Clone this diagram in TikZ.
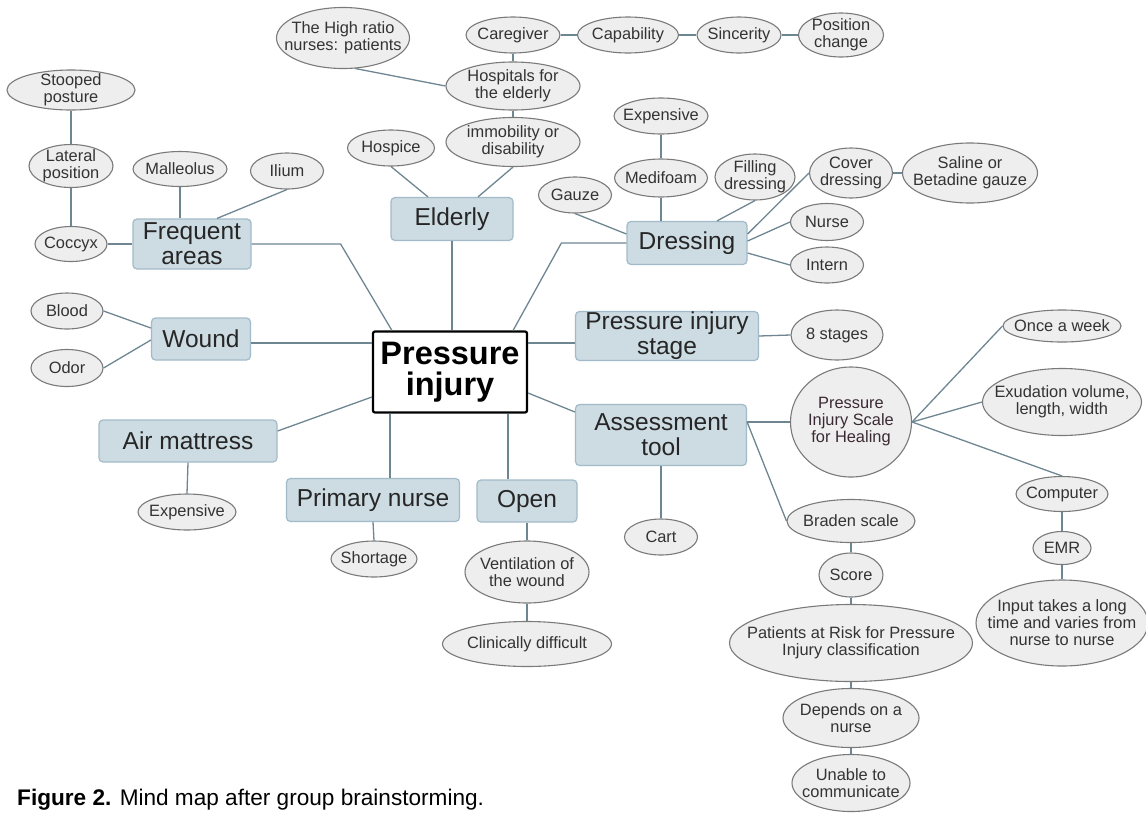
\documentclass[tikz,border=0pt]{standalone}
\usepackage{fontspec}
\setmainfont{Liberation Sans}
\usetikzlibrary{shapes.geometric,calc}
\definecolor{boxfill}{HTML}{CDDBE2}
\definecolor{boxline}{HTML}{A2BBC8}
\definecolor{conn}{HTML}{6E8692}
\definecolor{ellfill}{HTML}{EEEEEE}
\definecolor{ellline}{HTML}{7A7A7A}
\definecolor{etxt}{HTML}{333333}
\definecolor{pishtxt}{HTML}{3B2A33}
\newcommand\EL[6]{\node[ell, minimum width=#4pt, minimum height=#5pt, label={[etext]center:{#6}}] (#1) at (#2,#3) {};}
\begin{document}
\begin{tikzpicture}[x=1pt,y=-1pt,
 ell/.style={ellipse, draw=ellline, fill=ellfill, line width=1.1pt, inner sep=0pt},
 etext/.style={font=\fontsize{16.4}{17}\selectfont, align=center, text=etxt, inner sep=0pt},
 topic/.style={rectangle, rounded corners=4pt, draw=boxline, fill=boxfill, line width=1.2pt, inner sep=0pt, align=center, font=\fontsize{24.5}{25}\selectfont, text=black!85},
 core/.style={rectangle, rounded corners=2pt, draw=black, fill=white, line width=2.2pt, inner sep=0pt, align=center, font=\fontsize{32.5}{31}\selectfont\bfseries},
 link/.style={draw=conn, line width=1.3pt},
]
\useasboundingbox (0,0) rectangle (1146,812);

% core
\node[core, minimum width=154pt, minimum height=81pt] (pi) at (450,372) {Pressure\\injury};

% topics
\node[topic, minimum width=118pt, minimum height=50pt] (fa) at (192,244) {Frequent\\areas};
\node[topic, minimum width=122pt, minimum height=43pt] (eld) at (452,219) {Elderly};
\node[topic, minimum width=120pt, minimum height=43pt] (dr) at (687,243) {Dressing};
\node[topic, minimum width=99pt, minimum height=42pt] (wd) at (201,339) {Wound};
\node[topic, minimum width=183pt, minimum height=49pt] (pis) at (667,336) {Pressure injury\\stage};
\node[topic, minimum width=178pt, minimum height=42pt] (am) at (188,441) {Air mattress};
\node[topic, minimum width=171pt, minimum height=61pt] (at) at (661,435) {Assessment\\tool};
\node[topic, minimum width=173pt, minimum height=43pt] (pn) at (373,500) {Primary nurse};
\node[topic, minimum width=100pt, minimum height=42pt] (op) at (527,501) {Open};

% ellipses
\EL{stoop}{71}{90}{128}{40}{Stooped\\posture}
\EL{lat}{71}{166}{84}{43}{Lateral\\position}
\EL{cocc}{71}{244}{72}{35}{Coccyx}
\EL{mall}{180}{169}{94}{35}{Malleolus}
\EL{ilium}{287}{171}{73}{36}{Ilium}
\EL{hr}{343}{38}{133}{61}{The High ratio\\nurses: patients}
\EL{hsp}{391}{148}{87}{36}{Hospice}
\EL{cg}{513}{35}{94}{36}{Caregiver}
\EL{capb}{628}{35}{101}{36}{Capability}
\EL{sin}{739}{35}{84}{36}{Sincerity}
\EL{pc}{841}{35}{85}{44}{Position\\change}
\EL{hfe}{513}{86}{134}{48}{Hospitals for\\the elderly}
\EL{imm}{513}{142}{134}{49}{immobility or\\disability}
\EL{exd}{661}{116}{94}{36}{Expensive}
\EL{med}{661}{178}{93}{38}{Medifoam}
\EL{fill}{755}{177}{80}{46}{Filling\\dressing}
\EL{gz}{575}{195}{73}{36}{Gauze}
\EL{cov}{851}{173}{83}{50}{Cover\\dressing}
\EL{sal}{970}{173}{135}{60}{Saline or\\Betadine gauze}
\EL{nu}{827}{222}{73}{37}{Nurse}
\EL{intn}{827}{265}{73}{36}{Intern}
\EL{st8}{837}{335}{92}{50}{8 stages}
\node[ell, minimum width=121pt, minimum height=110pt, label={[etext,text=pishtxt]center:{Pressure\\Injury Scale\\for Healing}}] (pish) at (851,422) {};
\EL{once}{1062}{326}{118}{32}{Once a week}
\EL{exu}{1062}{402}{159}{67}{Exudation volume,\\length, width}
\EL{comp}{1062}{494}{92}{35}{Computer}
\EL{emr}{1062}{548}{58}{33}{EMR}
\EL{inp}{1062}{623}{172}{86}{Input takes a long\\time and varies from\\nurse to nurse}
\EL{brd}{851}{521}{128}{43}{Braden scale}
\EL{sc}{851}{575}{64}{44}{Score}
\EL{prc}{851}{643}{243}{77}{Patients at Risk for Pressure\\Injury classification}
\EL{dep}{851}{718}{136}{59}{Depends on a\\nurse}
\EL{un}{851}{783}{118}{57}{Unable to\\communicate}
\EL{cart}{661}{537}{73}{36}{Cart}
\EL{ven}{527}{572}{124}{62}{Ventilation of\\the wound}
\EL{cd}{527}{644}{169}{45}{Clinically difficult}
\EL{bl}{67}{311}{72}{36}{Blood}
\EL{od}{67}{368}{72}{37}{Odor}
\EL{exa}{187}{512}{98}{36}{Expensive}
\EL{sh}{374}{559}{86}{36}{Shortage}

% core connectors
\coordinate (pwu) at ($(pi.west)+(0,-29)$);
\coordinate (peu) at ($(pi.east)+(0,-29)$);
\coordinate (pbl) at ($(pi.south west)+(18,0)$);
\coordinate (pbr) at ($(pi.south east)+(-20,0)$);
\draw[link] (fa.east) -- ++(89,0) -- ($(pi.north west)+(20,0)$);
\draw[link] (eld.south) -- (eld.south |- pi.north);
\draw[link] (dr.west) -- ++(-65,0) -- ($(pi.north east)+(-15,0)$);
\draw[link] (wd.east |- pwu) -- (pwu);
\draw[link] (peu) -- (peu -| pis.west);
\draw[link] ($(am.east)+(0,-10)$) -- ($(pi.west)+(0,25)$);
\draw[link] ($(pi.east)+(0,21)$) -- ($(at.west)+(0,-23)$);
\draw[link] (pbl) -- (pbl |- pn.north);
\draw[link] (pbr) -- (pbr |- op.north);

% frequent areas
\draw[link] (stoop.south) -- (lat.north);
\draw[link] (lat.south) -- (cocc.north);
\draw[link] (cocc.east) -- (cocc.east -| fa.west);
\draw[link] (mall.south) -- (mall.south |- fa.north);
\draw[link] (ilium.south) -- ($(fa.north)+(25,0)$);

% elderly
\draw[link] (hsp.south) -- ($(eld.north)+(-24,0)$);
\draw[link] (imm.south) -- ($(eld.north)+(26,0)$);
\draw[link] (hfe.south) -- (imm.north);
\draw[link] (hfe.north) -- (cg.south);
\draw[link] (hfe.west) -- (hr.-68);
\draw[link] (cg.east) -- (capb.west);
\draw[link] (capb.east) -- (sin.west);
\draw[link] (sin.east) -- (pc.west);

% dressing
\draw[link] (gz.south) -- ($(dr.west)+(0,-9)$);
\draw[link] (med.south) -- (med.south |- dr.north);
\draw[link] (exd.south) -- (med.north);
\draw[link] (fill.south) -- ($(dr.north)+(30,0)$);
\draw[link] (cov.west) -- ($(dr.east)+(0,-9)$);
\draw[link] (cov.east) -- (sal.west);
\draw[link] ($(dr.east)+(0,-2)$) -- (nu.west);
\draw[link] ($(dr.east)+(0,10)$) -- (intn.west);

% wound, mattress, nurse, open
\draw[link] (bl.east) -- ($(wd.west)+(0,-11)$);
\draw[link] (od.east) -- ($(wd.west)+(0,1)$);
\draw[link] (am.south) -- (exa.north);
\draw[link] (pn.south) -- (sh.north);
\draw[link] (op.south) -- (ven.north);
\draw[link] (ven.south) -- (cd.north);

% stage, assessment
\draw[link] (pis.east) -- (st8.west);
\coordinate (ate) at ($(at.east)+(0,-13)$);
\draw[link] (ate) -- (pish.west);
\draw[link] (ate) -- (brd.west);
\draw[link] (at.south) -- (at.south |- cart.north);
\draw[link] (pish.east) -- (once.west);
\draw[link] (pish.east) -- (exu.west);
\draw[link] (pish.east) -- (comp.north);
\draw[link] (comp.south) -- (emr.north);
\draw[link] (emr.south) -- (inp.north);
\draw[link] (brd.south) -- (sc.north);
\draw[link] (sc.south) -- (prc.north);
\draw[link] (prc.south) -- (dep.north);
\draw[link] (dep.south) -- (un.north);

% caption
\node[anchor=base west, font=\fontsize{22.6}{24}\selectfont, inner sep=0pt] (capt) at (17,805) {\textbf{Figure 2.} Mind map after group brainstorming.};
\end{tikzpicture}
\end{document}
